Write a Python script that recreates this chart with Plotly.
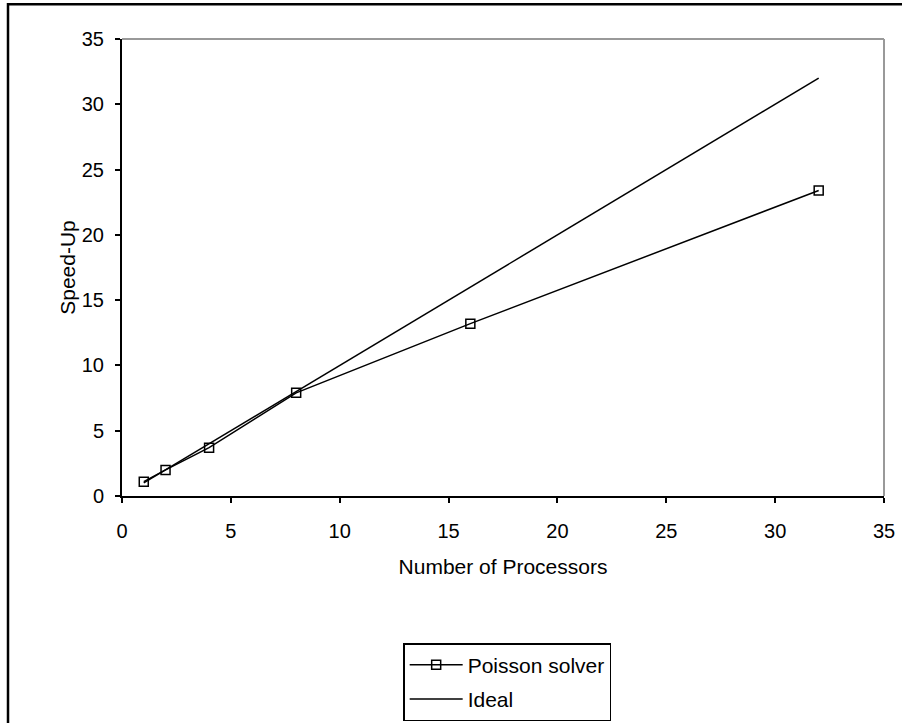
import plotly.graph_objects as go

processors = [1, 2, 4, 8, 16, 32]
poisson_speedup = [1.1, 2.0, 3.7, 7.9, 13.2, 23.4]
ideal_speedup = [1, 2, 4, 8, 16, 32]

FONT = "Liberation Sans, Arial, sans-serif"

fig = go.Figure()
fig.add_trace(go.Scatter(
    x=processors, y=poisson_speedup, name="Poisson solver",
    mode="lines+markers", legendgroup="a",
    line=dict(color="black", width=1.5),
    marker=dict(symbol="square-open", size=9, color="black", line=dict(width=1.5, color="black")),
))
fig.add_trace(go.Scatter(
    x=processors, y=ideal_speedup, name="Ideal",
    mode="lines", legendgroup="b",
    line=dict(color="black", width=1.5),
))

fig.update_layout(
    width=902, height=723,
    margin=dict(l=122, r=18, t=39, b=227, autoexpand=False),
    paper_bgcolor="white", plot_bgcolor="white",
    font=dict(family=FONT, size=20, color="black"),
    showlegend=True,
    legend=dict(
        x=0.369, y=-0.3217, xanchor="left", yanchor="top",
        bordercolor="black", borderwidth=1.5, bgcolor="white",
        font=dict(size=21), traceorder="grouped", tracegroupgap=4, itemwidth=53,
    ),
    xaxis=dict(
        range=[0, 35], tickvals=[0, 5, 10, 15, 20, 25, 30, 35],
        showgrid=False, zeroline=False, automargin=False,
        showline=True, linecolor="black", linewidth=2,
        ticks="outside", ticklen=5, tickwidth=1.5, tickcolor="black",
        ticklabelstandoff=11, tickfont=dict(size=20),
        title=dict(text="Number of Processors", standoff=18, font=dict(size=21)),
    ),
    yaxis=dict(
        range=[0, 35], tickvals=[0, 5, 10, 15, 20, 25, 30, 35],
        showgrid=False, zeroline=False, automargin=False,
        showline=True, linecolor="black", linewidth=2,
        ticks="outside", ticklen=5, tickwidth=1.5, tickcolor="black",
        ticklabelstandoff=7, tickfont=dict(size=20),
        title=dict(text="Speed-Up", standoff=0, font=dict(size=21)),
    ),
    shapes=[
        dict(type="line", xref="paper", yref="paper", x0=0, x1=1, y0=1, y1=1,
             line=dict(color="#999999", width=2)),
        dict(type="line", xref="paper", yref="paper", x0=1, x1=1, y0=0, y1=1,
             line=dict(color="#999999", width=2)),
        dict(type="rect", xref="paper", yref="paper",
             x0=-0.1496, x1=1.6, y0=-0.8, y1=1.076,
             line=dict(color="black", width=2.5), fillcolor="rgba(0,0,0,0)"),
    ],
)

fig.write_html(
    "out.html",
    config={"displayModeBar": False},
    post_script="document.body.style.margin='0';document.body.style.overflow='hidden';",
)
